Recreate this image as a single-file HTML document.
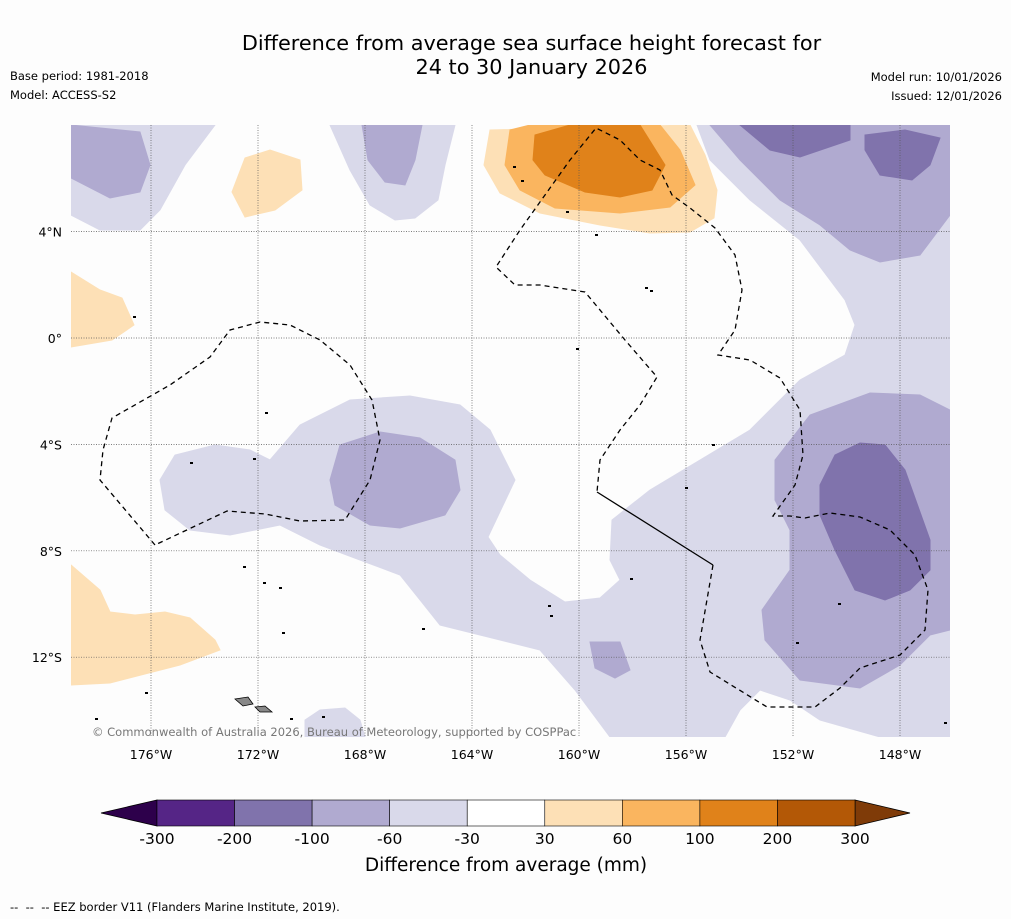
<!DOCTYPE html>
<html><head><meta charset="utf-8"><style>
body{margin:0;background:#fdfdfd;font-family:"DejaVu Sans","Liberation Sans",sans-serif;}
#wrap{position:relative;width:1011px;height:919px;overflow:hidden;background:#fdfdfd;}
.t{position:absolute;color:#000;}
svg text{font-family:"DejaVu Sans","Liberation Sans",sans-serif;}
</style></head><body>
<div id="wrap">
<div class="t" style="left:0;width:1063px;top:31px;text-align:center;font-size:20.8px;line-height:24px;">Difference from average sea surface height forecast for<br>24 to 30 January 2026</div>
<div class="t" style="left:10px;top:69px;font-size:11.5px;">Base period: 1981-2018</div>
<div class="t" style="left:10px;top:88px;font-size:11.5px;">Model: ACCESS-S2</div>
<div class="t" style="right:9px;top:70px;font-size:11.5px;text-align:right;">Model run: 10/01/2026</div>
<div class="t" style="right:9px;top:89px;font-size:11.5px;text-align:right;">Issued: 12/01/2026</div>
<svg id="svg" width="1011" height="919" style="position:absolute;left:0;top:0"></svg>
<div class="t" style="left:10px;top:900px;font-size:11.5px;">-- &nbsp;-- &nbsp;-- EEZ border V11 (Flanders Marine Institute, 2019).</div>
</div>
<script>
const levels=["-300","-200","-100","-60","-30","30","60","100","200","300"];
const binColors=["#552586","#8073ac","#b0aad0","#d9d9ea","#ffffff","#fde0b6","#fab55f","#e0821a","#b35806"];
const lonTicks=[-176,-172,-168,-164,-160,-156,-152,-148];
const latTicks=[4,0,-4,-8,-12];
const NS="http://www.w3.org/2000/svg";
const svg=document.getElementById('svg');
const X0=71,X1=950,Y0=125,Y1=737;
function xLon(l){return 151+(l+176)*26.75;}
function yLat(l){return 338-l*26.6;}
function mk(t,a,p){const e=document.createElementNS(NS,t);for(const k in a)e.setAttribute(k,a[k]);(p||svg).appendChild(e);return e;}
const clip=mk('clipPath',{id:'mc'});mk('rect',{x:X0,y:Y0,width:X1-X0,height:Y1-Y0},clip);
const g=mk('g',{'clip-path':'url(#mc)'});

const shapes=[
[3,[[697,125],[950,125],[950,737],[880,737],[820,720],[790,700],[760,690],[740,710],[725,737],[610,737],[575,690],[540,650],[480,635],[440,625],[420,600],[400,575],[360,560],[320,545],[280,525],[230,535],[190,530],[165,510],[160,480],[175,455],[215,445],[250,450],[270,460],[300,425],[350,400],[410,396],[460,405],[490,430],[515,480],[488,537],[500,555],[530,580],[565,602],[600,598],[620,580],[610,560],[612,520],[650,490],[700,460],[750,430],[800,380],[845,355],[855,325],[845,300],[800,240],[750,200],[710,160]],'lavender-main'],
[3,[[71,125],[215,125],[185,165],[160,210],[140,230],[100,230],[71,215]],'lavender-topleft'],
[3,[[330,125],[455,125],[445,165],[438,200],[415,218],[395,220],[370,205],[350,170]],'lavender-topcenter'],
[3,[[305,720],[320,710],[345,708],[360,720],[365,737],[305,737]],'lavender-bottom'],
[2,[[710,125],[950,125],[950,215],[920,255],[880,262],[850,250],[820,225],[780,200],[740,160]],'purple-topright'],
[2,[[71,125],[140,132],[150,165],[140,192],[110,198],[71,178]],'purple-topleft'],
[2,[[362,125],[422,125],[415,160],[405,185],[385,182],[368,160]],'purple-topcenter'],
[2,[[775,460],[810,415],[870,393],[920,395],[950,410],[950,630],[930,635],[900,665],[860,688],[800,680],[765,640],[762,610],[790,570],[790,530],[775,500]],'purple-right'],
[2,[[330,480],[340,445],[380,432],[420,438],[455,460],[460,490],[445,515],[400,528],[370,525],[335,505]],'purple-center'],
[2,[[590,642],[620,642],[630,670],[615,678],[595,668]],'purple-small'],
[1,[[740,125],[850,125],[850,140],[800,157],[770,150]],'dark-purple-top'],
[1,[[865,135],[905,130],[940,138],[930,165],[912,180],[880,175],[865,150]],'dark-purple-topright'],
[1,[[820,485],[835,455],[860,443],[885,445],[905,470],[930,540],[930,570],[910,590],[885,600],[855,590],[835,550],[820,515]],'dark-purple-right'],
[5,[[71,272],[100,290],[122,298],[134,325],[112,340],[71,347]],'orange-left'],
[5,[[71,565],[100,590],[110,612],[135,615],[165,612],[190,618],[215,640],[220,650],[180,665],[110,683],[71,685]],'orange-bottomleft'],
[5,[[245,158],[270,150],[300,160],[302,190],[275,210],[245,217],[232,192]],'orange-small'],
[5,[[490,130],[690,125],[705,155],[717,190],[714,218],[690,232],[650,233],[600,225],[540,213],[500,193],[484,165]],'orange-top-light'],
[6,[[510,130],[530,125],[660,125],[680,150],[695,185],[670,207],[620,213],[555,208],[520,190],[505,165]],'orange-top-mid'],
[7,[[535,135],[570,125],[640,125],[665,165],[652,190],[620,197],[585,192],[545,175],[533,160]],'orange-top-dark']
];
shapes.forEach(s=>{
  const p=mk('polygon',{points:s[1].map(q=>q.join(',')).join(' '),fill:binColors[s[0]],stroke:binColors[s[0]],'stroke-width':1},g);
  
  
});
lonTicks.forEach(l=>{const x=xLon(l);
  const ln=mk('line',{x1:x,x2:x,y1:Y0,y2:Y1,stroke:'#555','stroke-width':0.7,'stroke-dasharray':'1,1.5'},g);
  
  
  const t=mk('text',{x:x,y:759,'text-anchor':'middle','font-size':12.5});t.textContent=Math.abs(l)+'°W';
  
  
});
latTicks.forEach(l=>{const y=yLat(l);
  const ln=mk('line',{x1:X0,x2:X1,y1:y,y2:y,stroke:'#555','stroke-width':0.7,'stroke-dasharray':'1,1.5'},g);
  
  
  const t=mk('text',{x:62,y:y+5,'text-anchor':'end','font-size':12.5});t.textContent=l===0?'0°':Math.abs(l)+'°'+(l>0?'N':'S');
  
  
});
const eez=[
[[155,545],[100,480],[103,450],[112,418],[170,385],[210,357],[230,330],[260,322],[290,325],[320,340],[350,365],[372,400],[380,440],[370,480],[345,520],[300,521],[265,514],[227,511],[155,545]],
[[713,565],[700,640],[710,672],[767,707],[815,707],[840,688],[860,668],[900,655],[925,630],[928,590],[915,555],[890,530],[860,517],[830,513],[805,518],[790,516],[773,516],[795,485],[803,455],[800,410],[780,378],[750,360],[718,355],[735,330],[742,290],[735,255],[715,228],[690,208],[672,195],[660,170],[640,160],[620,140],[596,128],[570,160],[545,195],[520,230],[496,267],[515,285],[540,285],[585,292],[625,340],[657,377],[640,405],[620,430],[600,460],[597,492]]
];
eez.forEach(e=>{const p=mk('polyline',{points:e.map(q=>q.join(',')).join(' '),fill:'none',stroke:'#000','stroke-width':1.3,'stroke-dasharray':'5,4'},g);
  
  });
const sl=mk('line',{x1:597,y1:492,x2:713,y2:565,stroke:'#000','stroke-width':1.3},g);


[[[235,699],[248,697],[253,704],[243,706]],[[255,707],[265,706],[272,712],[260,712]]].forEach(s=>{
  const p=mk('polygon',{points:s.map(q=>q.join(',')).join(' '),fill:'#888',stroke:'#000','stroke-width':0.8},g);
  
  });
[[265,412],[190,462],[253,458],[243,566],[263,582],[279,587],[282,632],[145,692],[95,718],[290,718],[322,716],[548,605],[550,615],[422,628],[630,578],[685,487],[712,444],[838,603],[796,642],[595,234],[645,287],[650,290],[576,348],[513,166],[521,180],[566,211],[133,316],[944,722]].forEach(d=>{
  const c=mk('rect',{x:d[0],y:d[1],width:3,height:2,fill:'#000'},g);
  
  });
const cp=mk('text',{x:92,y:736,'font-size':11.5,fill:'#777'});cp.textContent='© Commonwealth of Australia 2026, Bureau of Meteorology, supported by COSPPac';


const cbX0=157,cbX1=855,cbY=800,cbH=26,seg=(cbX1-cbX0)/binColors.length;
function cbX(i){return cbX0+i*seg;}
const lt=mk('polygon',{points:`101,813 ${cbX0},${cbY} ${cbX0},${cbY+cbH}`,fill:'#2d004b',stroke:'#000','stroke-width':0.8});


const rt=mk('polygon',{points:`910,813 ${cbX1},${cbY} ${cbX1},${cbY+cbH}`,fill:'#7f3b08',stroke:'#000','stroke-width':0.8});


binColors.forEach((c,i)=>{const r=mk('rect',{x:cbX(i),y:cbY,width:seg,height:cbH,fill:c,stroke:'#000','stroke-width':0.6});
  
  });
levels.forEach((l,i)=>{const t=mk('text',{x:cbX(i),y:844,'text-anchor':'middle','font-size':15.5});t.textContent=l;
  
  });
const ct=mk('text',{x:506,y:871,'text-anchor':'middle','font-size':18.5});ct.textContent='Difference from average (mm)';


</script>
</body></html>
